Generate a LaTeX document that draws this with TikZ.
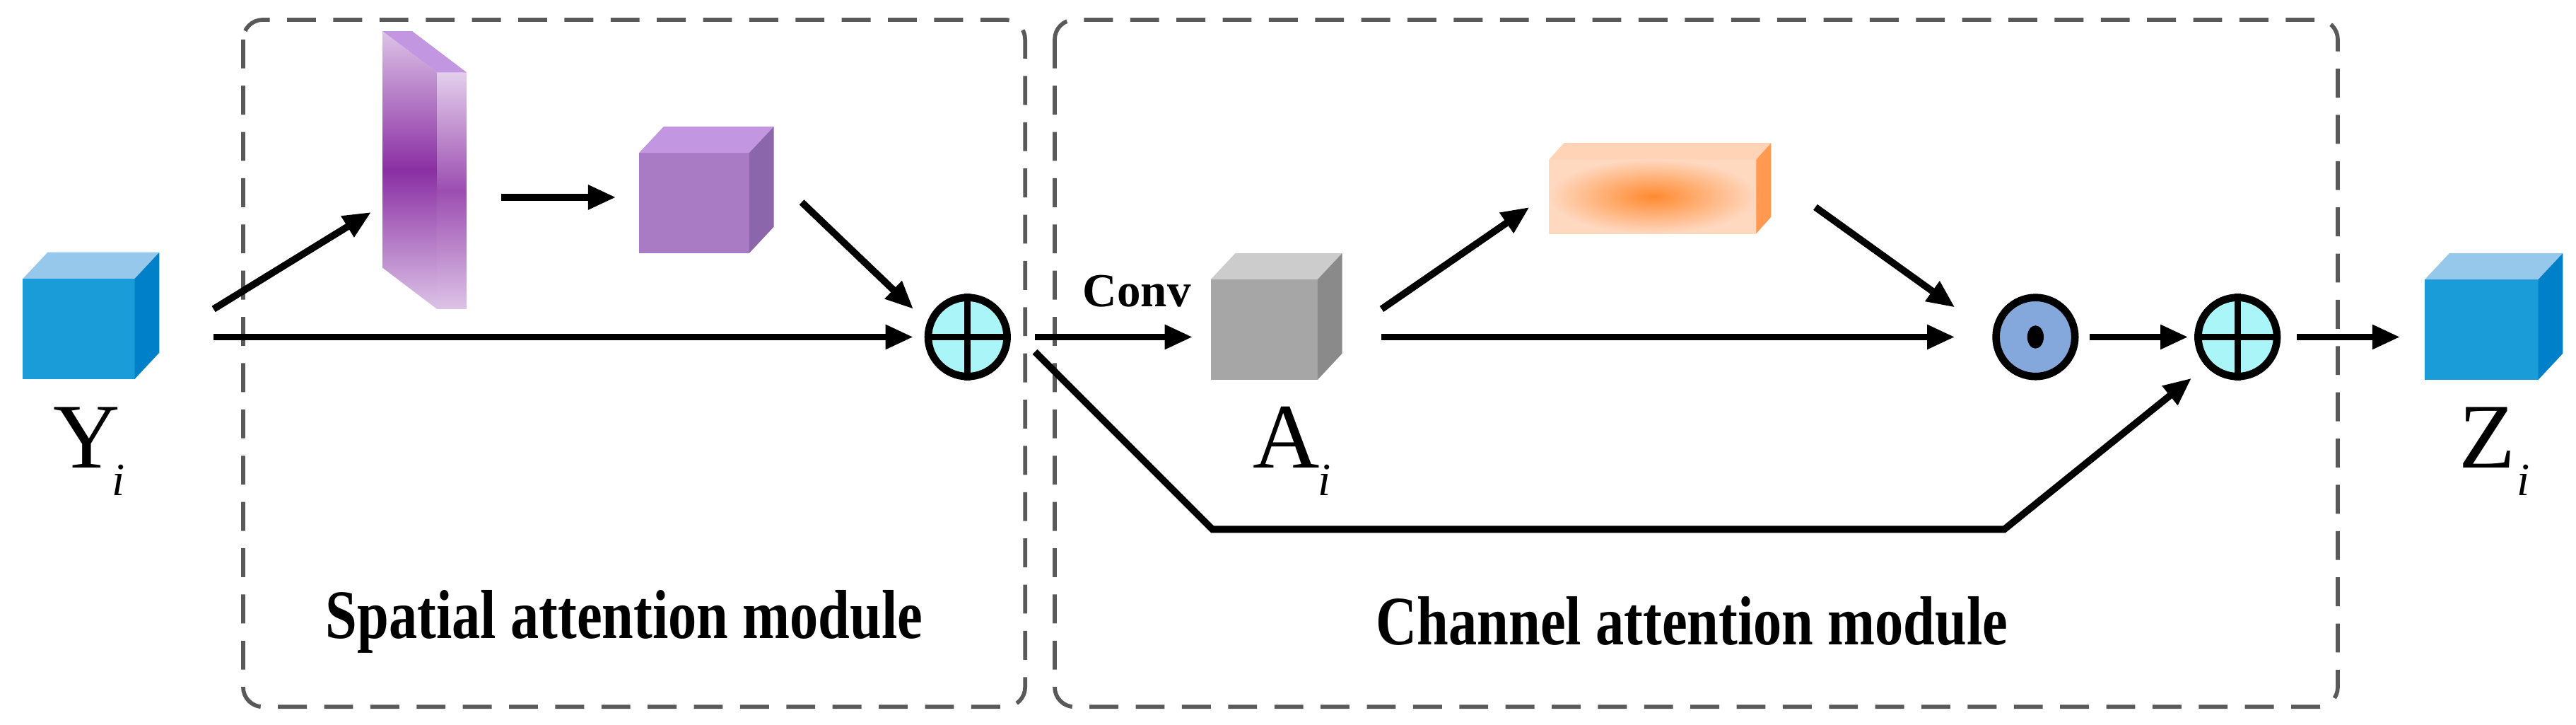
\documentclass[tikz,border=0pt]{standalone}
\usepackage{fontspec}
\setmainfont{Liberation Serif}
\usetikzlibrary{arrows.meta,shapes.geometric}
\definecolor{bfront}{HTML}{1A9CD8}\definecolor{btop}{HTML}{95C8EA}\definecolor{bside}{HTML}{0080C8}
\definecolor{gfront}{HTML}{A6A6A6}\definecolor{gtop}{HTML}{CCCCCC}\definecolor{gside}{HTML}{8A8A8A}
\definecolor{pfront}{HTML}{A97BC5}\definecolor{ptop}{HTML}{C296E0}\definecolor{pside}{HTML}{8C66AA}
\definecolor{pdark}{HTML}{8A2FA3}\definecolor{plight}{HTML}{DCC3E6}
\definecolor{odark}{HTML}{FF8A30}\definecolor{olight}{HTML}{FFD8C0}\definecolor{otop}{HTML}{FFD3B5}\definecolor{oside}{HTML}{FF9A50}
\definecolor{cyanf}{HTML}{AAF5F8}\definecolor{dotf}{HTML}{85A8DC}
\begin{document}
\begin{tikzpicture}[x=0.01cm,y=-0.01cm,
  arr/.style={line width=1.2pt,-{Triangle[length=0.17cm,width=0.14cm]}},
  ln/.style={line width=1.2pt},
  face/.style={inner sep=0,outer sep=0,draw=none},
  op/.style={circle,draw,line width=1.3pt,minimum size=0.48cm,inner sep=0},
  module/.style={draw=black!65,line width=0.7pt,dash pattern=on 5pt off 3pt,rounded corners=0.12cm},
  big/.style={font=\fontsize{16}{16}\selectfont},
  sub/.style={font=\fontsize{8}{8}\selectfont\itshape},
  lab/.style={font=\fontsize{12}{12}\selectfont\bfseries,xscale=0.82}]
\useasboundingbox (0,0) rectangle (1568,441);
% modules
\draw[module] (148,12) rectangle (624,430);
\draw[module] (642,12) rectangle (1423,430);
\node[lab] (slab1) at (380,378) {Spatial attention module};
\node[lab] (slab2) at (1030,378) {Channel attention module};
% Y cube
\node[face,fill=bfront,minimum width=0.68cm,minimum height=0.61cm] (Y) at (48,200) {};
\fill[btop] (Y.north west) -- ++(15,-16) -- ++(68,0) -- (Y.north east) -- cycle;
\fill[bside] (Y.north east) -- ++(15,-16) -- ++(0,61) -- (Y.south east) -- cycle;
\node[big] (Ylab) at (53,266) {Y};
\node[sub] (Ysub) at (72,292) {i};
% slab
\shade[top color=plight,bottom color=plight,middle color=pdark] (233,19) -- (266,44) -- (266,188) -- (233,163) -- cycle;
\shade[top color=plight!80,bottom color=plight,middle color=pdark!85] (266,44) -- (284,44) -- (284,188) -- (266,188) -- cycle;
\fill[ptop] (233,19) -- (251,19) -- (284,44) -- (266,44) -- cycle;
\coordinate (slab) at (258,110);
% purple cube
\node[face,fill=pfront,minimum width=0.67cm,minimum height=0.61cm] (P) at (422.5,123.5) {};
\fill[ptop] (P.north west) -- ++(15,-16) -- ++(67,0) -- (P.north east) -- cycle;
\fill[pside] (P.north east) -- ++(15,-16) -- ++(0,61) -- (P.south east) -- cycle;
% plus 1
\node[op,fill=cyanf] (p1) at (589,205) {};
\draw[line width=1.1pt] (p1.north) -- (p1.south) (p1.west) -- (p1.east);
% gray cube
\node[face,fill=gfront,minimum width=0.65cm,minimum height=0.61cm] (A) at (769.5,200.5) {};
\fill[gtop] (A.north west) -- ++(15,-16) -- ++(65,0) -- (A.north east) -- cycle;
\fill[gside] (A.north east) -- ++(15,-16) -- ++(0,61) -- (A.south east) -- cycle;
\node[big] (Alab) at (783,266) {A};
\node[sub] (Asub) at (806,292) {i};
\node[font=\fontsize{8.2}{8.2}\selectfont\bfseries] (conv) at (692,177) {Conv};
% orange slab
\node[face,shading=radial,inner color=odark,outer color=olight,minimum width=1.26cm,minimum height=0.45cm] (O) at (1006,119.5) {};
\fill[otop] (O.north west) -- ++(9,-10) -- ++(126,0) -- (O.north east) -- cycle;
\fill[oside] (O.north east) -- ++(9,-10) -- ++(0,45) -- (O.south east) -- cycle;
% dot
\node[op,fill=dotf] (dot) at (1239,205) {};
\fill (dot.center) ellipse [x radius=5,y radius=7];
% plus 2
\node[op,fill=cyanf] (p2) at (1362,205) {};
\draw[line width=1.1pt] (p2.north) -- (p2.south) (p2.west) -- (p2.east);
% Z cube
\node[face,fill=bfront,minimum width=0.69cm,minimum height=0.61cm] (Z) at (1510.5,200.5) {};
\fill[btop] (Z.north west) -- ++(15,-16) -- ++(69,0) -- (Z.north east) -- cycle;
\fill[bside] (Z.north east) -- ++(15,-16) -- ++(0,61) -- (Z.south east) -- cycle;
\node[big] (Zlab) at (1514,266) {Z};
\node[sub] (Zsub) at (1536,292) {i};
% connector endpoints
\coordinate (a1s) at (130,188); \coordinate (a1e) at (226,129);
\coordinate (a2s) at (305,120); \coordinate (a2e) at (375,120);
\coordinate (a3s) at (488,123); \coordinate (a3e) at (556,188);
\coordinate (a4s) at (130,205); \coordinate (a4e) at (556,205);
\coordinate (a5s) at (630,205); \coordinate (a5e) at (726,205);
\coordinate (a6s) at (841,188); \coordinate (a6e) at (931,126);
\coordinate (a7s) at (1105,126); \coordinate (a7e) at (1190,187);
\coordinate (a8s) at (841,205); \coordinate (a8e) at (1190,205);
\coordinate (a9s) at (1272,205); \coordinate (a9e) at (1332,205);
\coordinate (a10s) at (1398,205); \coordinate (a10e) at (1461,205);
\coordinate (b1) at (630,214); \coordinate (b2) at (738,322); \coordinate (b3) at (1220,322); \coordinate (b4) at (1334,230);
% connectors
\draw[arr] (a1s) -- (a1e);
\draw[arr] (a2s) -- (a2e);
\draw[arr] (a3s) -- (a3e);
\draw[arr] (a4s) -- (a4e);
\draw[arr] (a5s) -- (a5e);
\draw[arr] (a6s) -- (a6e);
\draw[arr] (a7s) -- (a7e);
\draw[arr] (a8s) -- (a8e);
\draw[arr] (a9s) -- (a9e);
\draw[arr] (a10s) -- (a10e);
\draw[arr,line join=miter] (b1) -- (b2) -- (b3) -- (b4);
\end{tikzpicture}
\end{document}
